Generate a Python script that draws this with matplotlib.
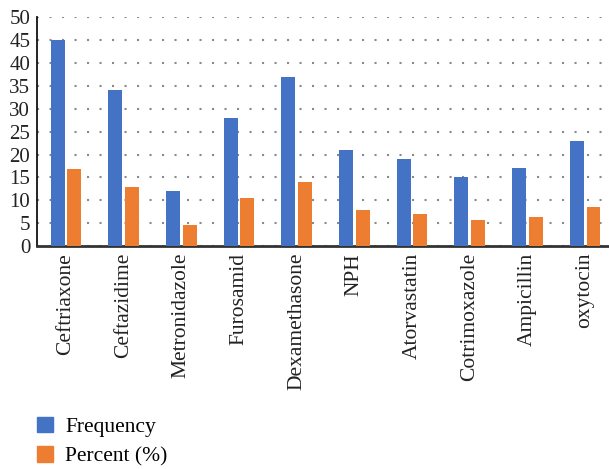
import matplotlib
matplotlib.use("Agg")
import matplotlib.pyplot as plt
import numpy as np
from matplotlib.patches import Patch

# ── Data ──────────────────────────────────────────────────────────────────────
drugs = ["Ceftriaxone", "Ceftazidime", "Metronidazole", "Furosamid", "Dexamethasone",
         "NPH", "Atorvastatin", "Cotrimoxazole", "Ampicillin", "oxytocin"]
frequency = [45, 34, 12, 28, 37, 21, 19, 15, 17, 23]
percent = [16.9, 12.8, 4.5, 10.5, 13.9, 7.9, 7.1, 5.6, 6.4, 8.6]
y_ticks = [0, 5, 10, 15, 20, 25, 30, 35, 40, 45, 50]

BLUE = "#4472C4"
ORANGE = "#ED7D31"

plt.rcParams["font.family"] = ["Liberation Serif", "DejaVu Serif"]
plt.rcParams["font.size"] = 15.5

W, H = 609, 469
fig = plt.figure(figsize=(W / 100, H / 100), dpi=100)
# axes extend a little past the right edge, as in the source
left, right, top, bottom = 37.2, 613.9, 17.3, 246
ax = fig.add_axes([left / W, 1 - bottom / H, (right - left) / W, (bottom - top) / H])

x = np.arange(len(drugs))
bw = 0.24
off = 0.145
ax.bar(x - off, frequency, width=bw, color=BLUE, zorder=3)
ax.bar(x + off, percent, width=bw, color=ORANGE, zorder=3)

ax.set_xlim(-0.5, len(drugs) - 0.5)
ax.set_ylim(0, 50)
ax.set_yticks(y_ticks)
ax.set_xticks(x)
ax.set_xticklabels(drugs, rotation=90, color="#222222")
ax.tick_params(axis="both", length=0, colors="#222222")
ax.tick_params(axis="y", pad=5, labelsize=15)
ax.tick_params(axis="x", pad=5)

ax.yaxis.grid(True, linestyle=(0, (1, 5)), linewidth=1.5, color="#8a8a8a", zorder=0)
ax.set_axisbelow(True)

for s in ["top", "right"]:
    ax.spines[s].set_visible(False)
ax.spines["left"].set_color("#111111")
ax.spines["left"].set_linewidth(1.3)
ax.spines["bottom"].set_color("#333333")
ax.spines["bottom"].set_linewidth(2)

handles = [Patch(color=BLUE), Patch(color=ORANGE)]
fig.legend(handles, ["Frequency", "Percent (%)"], loc="upper left",
           bbox_to_anchor=(37 / W, 1 - 417 / H), frameon=False,
           handlelength=0.72, handleheight=0.72, handletextpad=0.6,
           labelspacing=0.42, borderpad=0, borderaxespad=0)

fig.savefig("out.png", dpi=100)
